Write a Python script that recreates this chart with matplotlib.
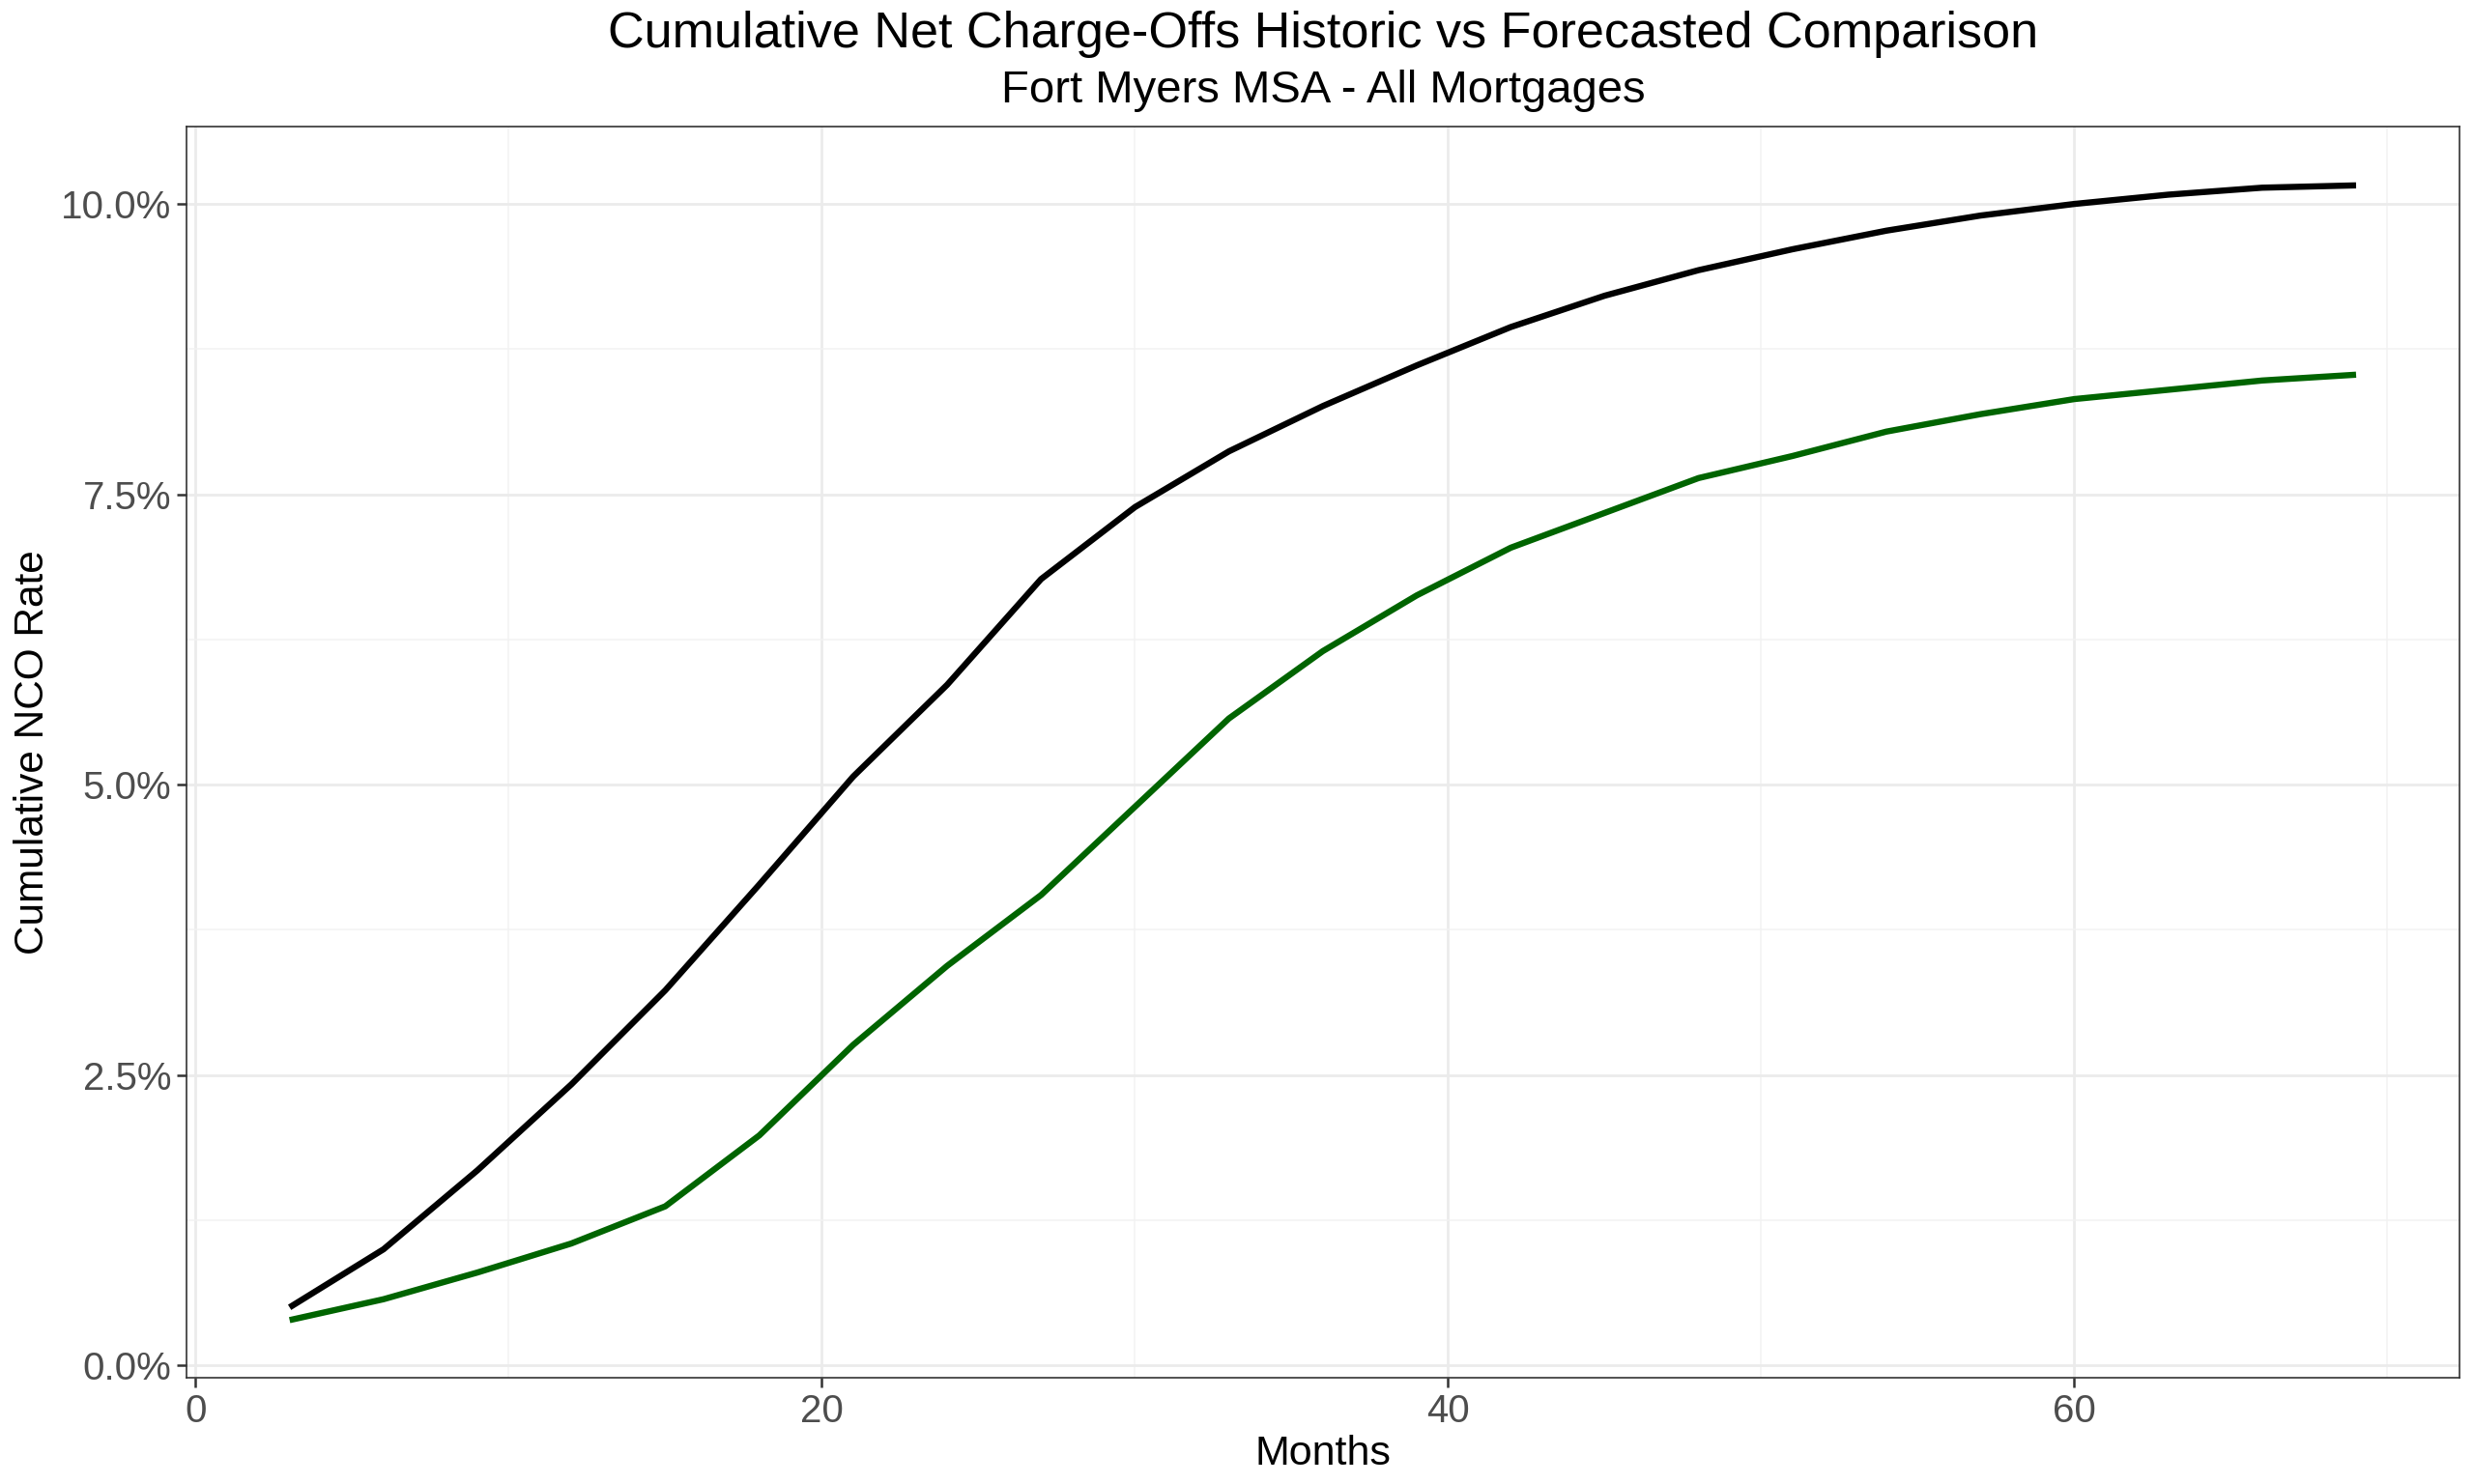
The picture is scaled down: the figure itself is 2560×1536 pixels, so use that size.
import matplotlib
matplotlib.use("Agg")
import matplotlib.pyplot as plt
from matplotlib.ticker import FuncFormatter, MultipleLocator

plt.rcParams['font.family'] = ['Liberation Sans', 'DejaVu Sans']

months = [3, 6, 9, 12, 15, 18, 21, 24, 27, 30, 33, 36, 39, 42, 45, 48, 51, 54, 57, 60, 63, 66, 69]
historic = [0.50, 1.00, 1.68, 2.42, 3.23, 4.14, 5.07, 5.86, 6.77, 7.39, 7.87, 8.26, 8.61, 8.94,
            9.21, 9.43, 9.61, 9.77, 9.90, 10.00, 10.08, 10.14, 10.16]
forecast = [0.39, 0.57, 0.80, 1.05, 1.37, 1.98, 2.76, 3.44, 4.05, 4.81, 5.57, 6.15, 6.63, 7.04,
            7.34, 7.64, 7.83, 8.04, 8.19, 8.32, 8.40, 8.48, 8.53]
y_ticks = [0.0, 2.5, 5.0, 7.5, 10.0]
x_ticks = [0, 20, 40, 60]

title = "Cumulative Net Charge-Offs Historic vs Forecasted Comparison"
subtitle = "Fort Myers MSA - All Mortgages"

fig = plt.figure(figsize=(25.6, 15.36), dpi=100)
left, bottom, width, height = 0.0753, 0.0713, 0.9188, 0.8437
ax = fig.add_axes([left, bottom, width, height])

ax.plot(months, historic, color='black', lw=4.6, solid_capstyle='butt', zorder=3)
ax.plot(months, forecast, color='#006400', lw=4.6, solid_capstyle='butt', zorder=3)

xr = max(months) - min(months)
ax.set_xlim(min(months) - 0.05 * xr, max(months) + 0.05 * xr)
ax.set_ylim(-0.11, 10.67)

ax.set_xticks(x_ticks)
ax.set_yticks(y_ticks)
ax.xaxis.set_minor_locator(MultipleLocator(10))
ax.yaxis.set_minor_locator(MultipleLocator(1.25))
ax.yaxis.set_major_formatter(FuncFormatter(lambda v, p: f"{v:.1f}%"))

ax.grid(which='major', color='#EBEBEB', lw=2.0, zorder=0)
ax.grid(which='minor', color='#F2F2F2', lw=1.1, zorder=0)
ax.set_axisbelow(True)
for s in ax.spines.values():
    s.set_color('#333333')
    s.set_linewidth(1.2)

ax.tick_params(axis='both', which='major', labelsize=29, labelcolor='#4D4D4D',
               color='#333333', length=7, width=1.8, pad=4)
ax.tick_params(axis='both', which='minor', length=0)

ax.set_xlabel("Months", fontsize=31, color='black', labelpad=4)
ax.set_ylabel("Cumulative NCO Rate", fontsize=30.5, color='black', labelpad=7)

cx = left + width / 2
fig.text(cx, 0.993, title, ha='center', va='top', fontsize=37.5, color='black')
fig.text(cx, 0.953, subtitle, ha='center', va='top', fontsize=34, color='black')

fig.savefig("out.png", dpi=100, facecolor='white')
